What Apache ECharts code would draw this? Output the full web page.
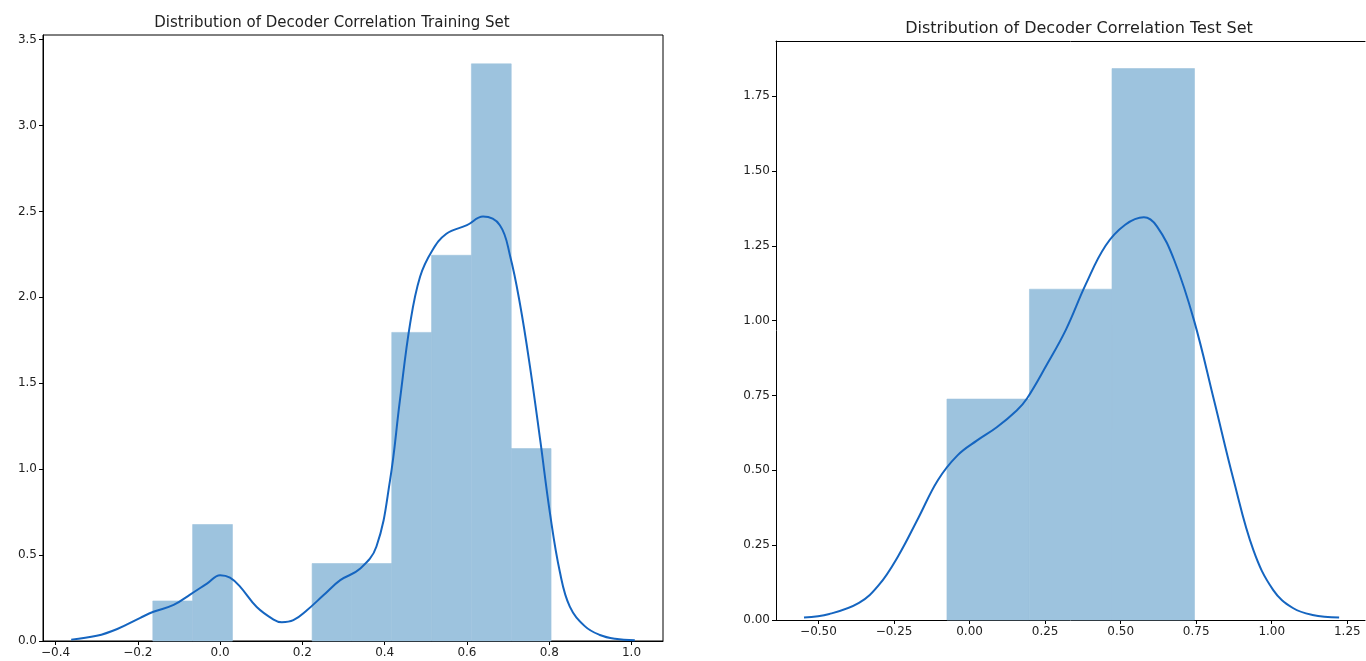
<!DOCTYPE html>
<html>
<head>
<meta charset="utf-8">
<script src="https://cdn.jsdelivr.net/npm/echarts@6/dist/echarts.min.js"></script>
<style>
html,body{margin:0;padding:0;background:#fff;overflow:hidden;}
#c{width:1400px;height:661px;}
</style>
</head>
<body>
<div id="c"></div>
<script>
// ---- Training set data ----
const trainBinEdges = [-0.1636, -0.0668, 0.0300, 0.1268, 0.2236, 0.3204, 0.4172, 0.5140, 0.6108, 0.7076, 0.8044];
const trainDensity  = [0.233, 0.678, 0, 0, 0.451, 0.451, 1.796, 2.245, 3.359, 1.12];
const trainKdeX = [-0.362, -0.30, -0.25, -0.194, -0.162, -0.113, -0.073, -0.032, 0.0, 0.024, 0.049, 0.089, 0.130, 0.150, 0.178, 0.211, 0.251, 0.292, 0.34, 0.38, 0.413, 0.437, 0.462, 0.486, 0.515, 0.55, 0.60, 0.639, 0.68, 0.705, 0.729, 0.753, 0.778, 0.802, 0.826, 0.85, 0.887, 0.923, 0.96, 1.008];
const trainKdeY = [0.008, 0.03, 0.07, 0.135, 0.170, 0.210, 0.270, 0.334, 0.383, 0.369, 0.315, 0.198, 0.125, 0.109, 0.121, 0.179, 0.266, 0.354, 0.42, 0.55, 0.935, 1.40, 1.85, 2.12, 2.27, 2.37, 2.42, 2.47, 2.42, 2.24, 1.96, 1.60, 1.17, 0.74, 0.40, 0.20, 0.085, 0.035, 0.013, 0.004];
const trainXTicks = [-0.4, -0.2, 0.0, 0.2, 0.4, 0.6, 0.8, 1.0];
const trainYTicks = [0.0, 0.5, 1.0, 1.5, 2.0, 2.5, 3.0, 3.5];

// ---- Test set data ----
const testBinEdges = [-0.0749, 0.1982, 0.4713, 0.7444];
const testDensity  = [0.738, 1.105, 1.842];
const testKdeX = [-0.548, -0.464, -0.366, -0.30, -0.236, -0.17, -0.105, -0.04, 0.025, 0.09, 0.156, 0.19, 0.254, 0.319, 0.384, 0.45, 0.515, 0.577, 0.62, 0.678, 0.743, 0.809, 0.874, 0.939, 1.005, 1.07, 1.135, 1.223];
const testKdeY = [0.008, 0.02, 0.057, 0.117, 0.214, 0.34, 0.467, 0.55, 0.60, 0.644, 0.70, 0.74, 0.85, 0.97, 1.12, 1.25, 1.32, 1.345, 1.315, 1.20, 1.0, 0.734, 0.467, 0.234, 0.10, 0.04, 0.017, 0.008];
const testXTicks = [-0.5, -0.25, 0.0, 0.25, 0.5, 0.75, 1.0, 1.25];
const testYTicks = [0.0, 0.25, 0.5, 0.75, 1.0, 1.25, 1.5, 1.75];

const titles = ['Distribution of Decoder Correlation Training Set', 'Distribution of Decoder Correlation Test Set'];

const BAR = '#9dc3de';
const LINE = '#1565c0';
const FONT = 'DejaVu Sans';

function fmt(d) {
  return function (v) {
    const s = Math.abs(v).toFixed(d);
    return (v < -1e-9 ? '\u2212' : '') + s;
  };
}
function bins(edges, dens) {
  return dens.map((h, i) => [edges[i], edges[i + 1], h]);
}
function zip(xs, ys) { return xs.map((x, i) => [x, ys[i]]); }

function axisCfg(gi, min, max, ticks, d, extra) {
  return Object.assign({
    type: 'value', gridIndex: gi, min: min, max: max,
    splitLine: { show: false },
    axisLine: { show: true, onZero: false, lineStyle: { color: '#000', width: 1 } },
    axisTick: { show: true, length: 4, lineStyle: { color: '#000' }, customValues: ticks },
    axisLabel: { color: '#222', fontFamily: FONT, fontSize: 12, margin: 6, formatter: fmt(d), customValues: ticks }
  }, extra || {});
}
function histSeries(gi, data) {
  return {
    type: 'custom', xAxisIndex: gi, yAxisIndex: gi,
    encode: { x: [0, 1], y: 2 },
    data: data, z: 1,
    renderItem: function (params, api) {
      if (!(api.value(2) > 0)) return null;
      const p0 = api.coord([api.value(0), api.value(2)]);
      const p1 = api.coord([api.value(1), 0]);
      return { type: 'rect', shape: { x: p0[0], y: p0[1], width: p1[0] - p0[0], height: p1[1] - p0[1] }, style: { fill: BAR, stroke: BAR, lineWidth: 0.6 } };
    }
  };
}
function kdeSeries(gi, data) {
  return {
    type: 'line', xAxisIndex: gi, yAxisIndex: gi, data: data, smooth: 0.4,
    showSymbol: false, z: 3, lineStyle: { color: LINE, width: 2 }
  };
}

const chart = echarts.init(document.getElementById('c'), null, { renderer: 'canvas' });
chart.setOption({
  animation: false,
  backgroundColor: '#fff',
  title: [
    { text: titles[0], left: 327, top: 11, textAlign: 'center', textStyle: { fontFamily: FONT, fontSize: 15, fontWeight: 'normal', color: '#222' } },
    { text: titles[1], left: 1074, top: 16, textAlign: 'center', textStyle: { fontFamily: FONT, fontSize: 16, fontWeight: 'normal', color: '#222' } }
  ],
  grid: [
    { left: 43, top: 35, width: 620, height: 606, show: true, borderColor: '#000', borderWidth: 1, backgroundColor: 'transparent' },
    { left: 776, top: 41, width: 589, height: 579, show: false }
  ],
  xAxis: [
    axisCfg(0, -0.4305, 1.0765, trainXTicks, 1),
    axisCfg(1, -0.6406, 1.3086, testXTicks, 2),
    { type: 'value', gridIndex: 1, position: 'top', min: -0.6406, max: 1.3086,
      axisLine: { show: true, onZero: false, lineStyle: { color: '#000', width: 1 } },
      axisTick: { show: false }, axisLabel: { show: false }, splitLine: { show: false } }
  ],
  yAxis: [
    axisCfg(0, 0, 3.527, trainYTicks, 1),
    axisCfg(1, 0, 1.934, testYTicks, 2)
  ],
  series: [
    histSeries(0, bins(trainBinEdges, trainDensity)),
    kdeSeries(0, zip(trainKdeX, trainKdeY)),
    histSeries(1, bins(testBinEdges, testDensity)),
    kdeSeries(1, zip(testKdeX, testKdeY))
  ]
});
</script>
</body>
</html>
